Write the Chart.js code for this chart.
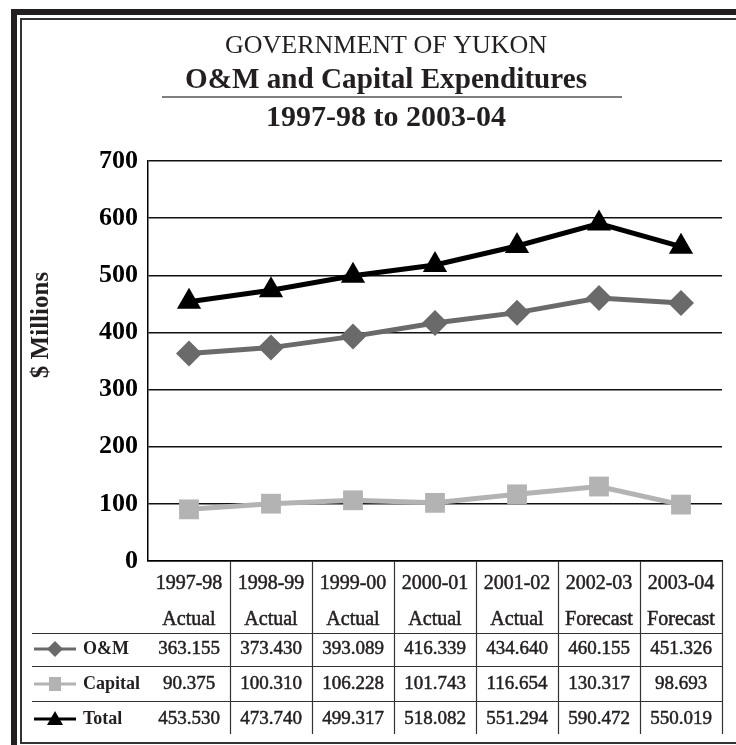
<!DOCTYPE html>
<html>
<head>
<meta charset="utf-8">
<script src="https://cdn.jsdelivr.net/npm/chart.js@4/dist/chart.umd.min.js"></script>
<style>
  html, body { margin: 0; padding: 0; background: #fff; }
  canvas { display: block; }
</style>
</head>
<body>
<canvas id="chart" width="736" height="745"></canvas>
<script>
'use strict';

const years    = ['1997-98', '1998-99', '1999-00', '2000-01', '2001-02', '2002-03', '2003-04'];
const status   = ['Actual', 'Actual', 'Actual', 'Actual', 'Actual', 'Forecast', 'Forecast'];
const omValues      = [363.155, 373.430, 393.089, 416.339, 434.640, 460.155, 451.326];
const capitalValues = [90.375, 100.310, 106.228, 101.743, 116.654, 130.317, 98.693];
const totalValues   = [453.530, 473.740, 499.317, 518.082, 551.294, 590.472, 550.019];

const INK = '#231f20';
const COLORS = {
  om:      '#6a6a6a',
  capital: '#b3b3b3',
  total:   '#000000',
};
const SERIF = '"Liberation Serif", "Times New Roman", serif';

// rows of the data table under the x axis
const tableRows = [
  { label: 'O&M',     data: omValues,      color: COLORS.om,      style: 'diamond' },
  { label: 'Capital', data: capitalValues, color: COLORS.capital, style: 'square' },
  { label: 'Total',   data: totalValues,   color: COLORS.total,   style: 'triangle' },
];

function legendKey(ctx, x, y, row) {
  ctx.save();
  ctx.strokeStyle = row.color;
  ctx.fillStyle = row.color;
  ctx.lineWidth = 3;
  ctx.beginPath();
  ctx.moveTo(x - 21, y);
  ctx.lineTo(x + 21, y);
  ctx.stroke();
  ctx.beginPath();
  if (row.style === 'diamond') {
    ctx.moveTo(x, y - 8); ctx.lineTo(x + 8, y); ctx.lineTo(x, y + 8); ctx.lineTo(x - 8, y);
  } else if (row.style === 'square') {
    ctx.rect(x - 6, y - 7, 12, 14);
  } else {
    ctx.moveTo(x, y - 8); ctx.lineTo(x + 8, y + 6); ctx.lineTo(x - 8, y + 6);
  }
  ctx.closePath();
  ctx.fill();
  ctx.restore();
}

// slightly heavier text, the original face is a semibold serif
function heavyText(ctx, text, x, y) {
  ctx.fillText(text, x, y);
  ctx.strokeText(text, x, y);
}

// ── frame, titles, y title and data table ────────────────────────────────────
const decorPlugin = {
  id: 'decor',
  afterDraw(chart) {
    const { ctx, chartArea, scales } = chart;
    const xs = scales.x;
    ctx.save();

    // outer frame
    ctx.fillStyle = INK;
    ctx.fillRect(11, 9, 6, 736);
    ctx.fillRect(11, 9, 725, 6);
    ctx.fillStyle = '#333';
    ctx.fillRect(20, 18, 2, 726);
    ctx.fillRect(20, 18, 716, 2);
    ctx.fillRect(20, 742, 716, 2);

    // titles
    const cx = 386;
    ctx.fillStyle = INK;
    ctx.textAlign = 'center';
    ctx.textBaseline = 'alphabetic';
    ctx.font = '26px ' + SERIF;
    ctx.fillText('GOVERNMENT OF YUKON', cx, 53, 326);
    ctx.font = 'bold 30px ' + SERIF;
    ctx.fillText('O&M and Capital Expenditures', cx, 88, 402);
    ctx.font = 'bold 30px ' + SERIF;
    ctx.fillText('1997-98 to 2003-04', cx, 126, 250);
    ctx.strokeStyle = '#555';
    ctx.lineWidth = 1.5;
    ctx.beginPath();
    ctx.moveTo(162, 97);
    ctx.lineTo(622, 97);
    ctx.stroke();

    // y axis title
    ctx.save();
    ctx.translate(42, 325);
    ctx.rotate(-Math.PI / 2);
    ctx.font = 'bold 25px ' + SERIF;
    ctx.textBaseline = 'middle';
    ctx.fillText('$ Millions', 0, 0);
    ctx.restore();

    // table grid
    const bottom = chartArea.bottom;
    const step = xs.getPixelForValue(1) - xs.getPixelForValue(0);
    ctx.strokeStyle = '#333';
    ctx.lineWidth = 1.2;
    ctx.beginPath();
    for (let i = 0; i < years.length; i++) {
      const bx = Math.round(xs.getPixelForValue(i) + step / 2) + 0.5;
      ctx.moveTo(bx, bottom);
      ctx.lineTo(bx, bottom + 173);
    }
    [72, 105, 140].forEach(dy => {
      ctx.moveTo(32, bottom + dy + 0.5);
      ctx.lineTo(chartArea.right, bottom + dy + 0.5);
    });
    ctx.stroke();

    // header rows (years / status), centred on each category
    ctx.fillStyle = INK;
    ctx.strokeStyle = INK;
    ctx.lineWidth = 0.5;
    ctx.textAlign = 'center';
    ctx.textBaseline = 'middle';
    ctx.font = '20px ' + SERIF;
    years.forEach((y, i) => {
      const px = xs.getPixelForValue(i);
      heavyText(ctx, y, px, bottom + 23);
      heavyText(ctx, status[i], px, bottom + 59);
    });

    // table rows
    const rowY = [88, 123, 158];
    tableRows.forEach((row, r) => {
      const y = bottom + rowY[r];
      legendKey(ctx, 55, y, row);
      ctx.fillStyle = INK;
      ctx.strokeStyle = INK;
      ctx.lineWidth = 0.5;
      ctx.textAlign = 'left';
      ctx.textBaseline = 'middle';
      ctx.font = 'bold 18px ' + SERIF;
      ctx.fillText(row.label, 83, y);
      ctx.textAlign = 'center';
      ctx.font = '19px ' + SERIF;
      row.data.forEach((v, i) => {
        heavyText(ctx, v.toFixed(3), xs.getPixelForValue(i), y);
      });
    });

    ctx.restore();
  },
};

new Chart(document.getElementById('chart'), {
  type: 'line',
  data: {
    labels: years,
    datasets: [
      {
        label: 'Capital',
        data: capitalValues,
        borderColor: COLORS.capital,
        backgroundColor: COLORS.capital,
        borderWidth: 5,
        pointStyle: 'rect',
        pointRadius: 14,
        pointBorderWidth: 0,
        tension: 0,
      },
      {
        label: 'O&M',
        data: omValues,
        borderColor: COLORS.om,
        backgroundColor: COLORS.om,
        borderWidth: 5,
        pointStyle: 'rectRot',
        pointRadius: 13,
        pointBorderWidth: 0,
        tension: 0,
      },
      {
        label: 'Total',
        data: totalValues,
        borderColor: COLORS.total,
        backgroundColor: COLORS.total,
        borderWidth: 5,
        pointStyle: 'triangle',
        pointRadius: 14,
        pointBorderWidth: 0,
        tension: 0,
      },
    ],
  },
  options: {
    responsive: false,
    animation: false,
    layout: { padding: { top: 161, left: 0, right: 11, bottom: 0 } },
    plugins: {
      legend: { display: false },
      tooltip: { enabled: false },
    },
    scales: {
      x: {
        offset: true,
        grid: { display: false, drawTicks: false },
        border: { display: true, color: '#000', width: 1.5 },
        ticks: { display: false },
        afterFit(scale) { scale.height = 184; },
      },
      y: {
        min: 0,
        max: 700,
        grid: { color: '#111', lineWidth: 1.5, drawTicks: false },
        border: { display: true, color: '#000', width: 1.5 },
        ticks: {
          stepSize: 100,
          color: '#000',
          padding: 10,
          font: { family: SERIF, size: 26, weight: 'bold' },
        },
        afterFit(scale) { scale.width = 148; },
      },
    },
  },
  plugins: [decorPlugin],
});
</script>
</body>
</html>
